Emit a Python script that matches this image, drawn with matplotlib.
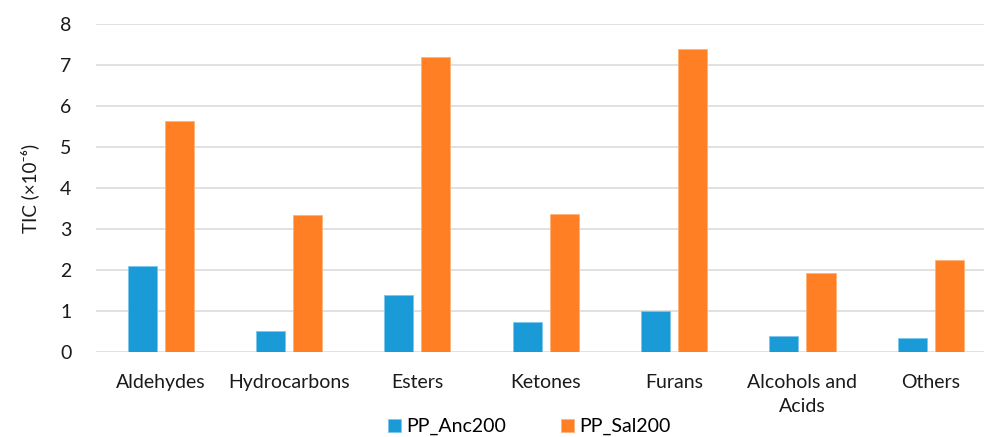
import matplotlib.pyplot as plt
import numpy as np

plt.rcParams['font.family'] = ['Lato', 'DejaVu Sans']

categories = ['Aldehydes', 'Hydrocarbons', 'Esters', 'Ketones', 'Furans',
              'Alcohols and\nAcids', 'Others']
anc200 = [2.10, 0.51, 1.40, 0.74, 1.00, 0.39, 0.33]
sal200 = [5.63, 3.33, 7.19, 3.36, 7.38, 1.93, 2.24]

blue = '#1a9bd7'
orange = '#ff7f24'

fig = plt.figure(figsize=(9.84, 4.37), dpi=100)
ax = fig.add_axes([0.098, 0.1945, 0.902, 0.7505])

x = np.arange(len(categories))
w = 0.226
gap = 0.0625
ax.bar(x - (w + gap) / 2, anc200, w, color=blue, edgecolor='#7cc6ea',
       linewidth=0.6, label='PP_Anc200', zorder=3)
ax.bar(x + (w + gap) / 2, sal200, w, color=orange, edgecolor='#ffb27a',
       linewidth=0.6, label='PP_Sal200', zorder=3)

ax.set_ylim(0, 8)
ax.set_xlim(-0.5, 6.414)
ax.set_yticks(range(0, 9))
ax.yaxis.grid(True, color='#d9d9d9', linewidth=1.1, zorder=0)
ax.set_axisbelow(True)
for s in ax.spines.values():
    s.set_visible(False)
ax.tick_params(axis='both', length=0, labelsize=14, colors='#1a1a1a')
ax.tick_params(axis='y', pad=18)
ax.tick_params(axis='x', pad=16)
ax.set_xticks(x)
ax.set_xticklabels(categories, linespacing=1.5)

ax.set_ylabel('TIC (×10⁻⁶)', fontsize=13.5, color='#1a1a1a', labelpad=15)

fig.legend(loc='center', bbox_to_anchor=(0.538, 0.024), ncol=2,
           frameon=False, fontsize=14, handlelength=0.65, handleheight=0.65,
           handletextpad=0.3, columnspacing=2.8, borderpad=0.1)

fig.savefig('out.png', dpi=100)
